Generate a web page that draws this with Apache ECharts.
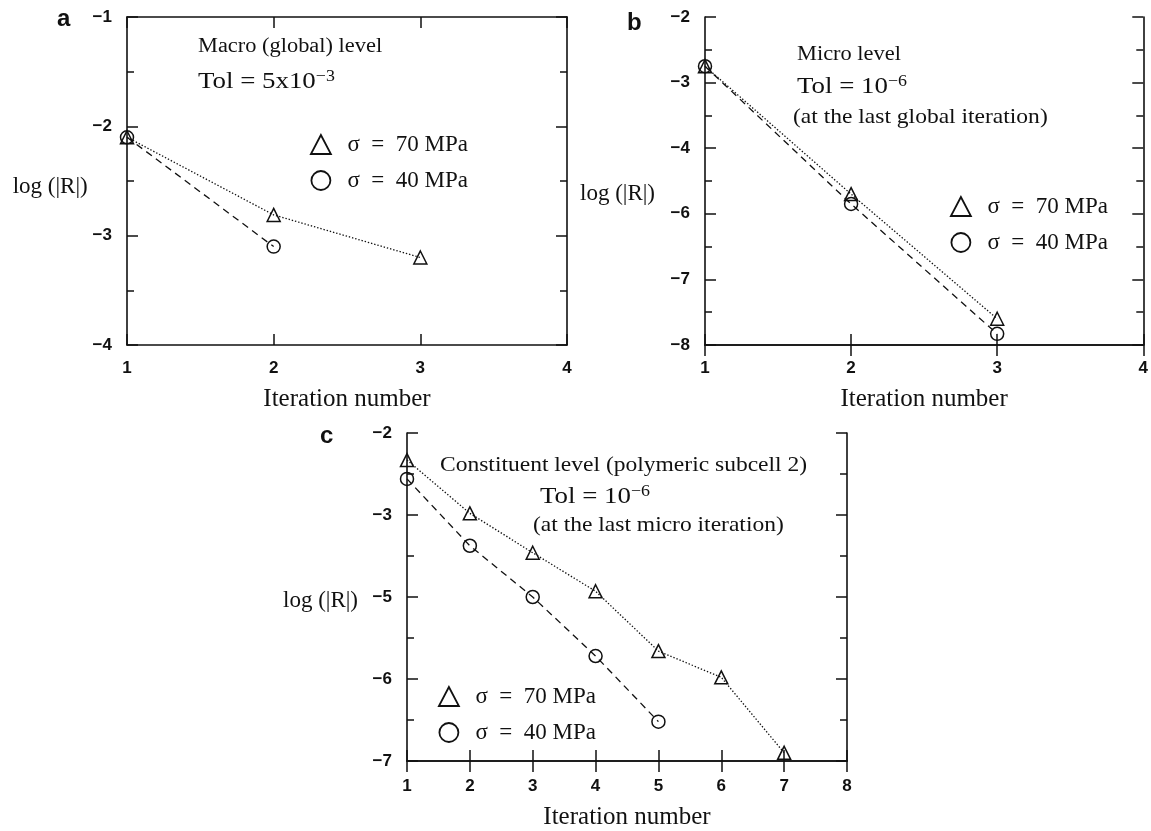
<!DOCTYPE html>
<html><head><meta charset="utf-8">
<script src="https://cdn.jsdelivr.net/npm/echarts@6/dist/echarts.min.js"></script>
<style>html,body{margin:0;padding:0;background:#fff}#c{width:1151px;height:831px}</style>
</head><body><div id="c"></div>
<script>
// ---------- data ----------
const S70 = 'σ = 70 MPa';
const S40 = 'σ = 40 MPa';
// panel a (macro level)
const aIter70 = [1, 2, 3];
const aLog70 = [-2.1, -2.81, -3.2];
const aIter40 = [1, 2];
const aLog40 = [-2.1, -3.1];
// panel b (micro level) - printed tick labels (one label skipped in the original figure)
const bIter70 = [1, 2, 3];
const bLog70 = [-2.75, -5.4, -7.6];
const bIter40 = [1, 2, 3];
const bLog40 = [-2.75, -5.7, -7.83];
const bYTickValues = [-8, -7, -6, -4, -3, -2];
const bYTickLabels = ['−8', '−7', '−6', '−4', '−3', '−2'];
// panel c (constituent level)
const cIter70 = [1, 2, 3, 4, 5, 6, 7];
const cLog70 = [-2.33, -2.98, -3.92, -4.86, -5.66, -5.98, -6.9];
const cIter40 = [1, 2, 3, 4, 5];
const cLog40 = [-2.56, -3.75, -5.0, -5.72, -6.52];
const cYTickValues = [-7, -6, -5, -3, -2];
const cYTickLabels = ['−7', '−6', '−5', '−3', '−2'];

// map a log value onto the printed (evenly spaced) tick positions: tick k sits at 2k
function tickPos(v, vals) {
  for (let i = 0; i < vals.length - 1; i++) {
    if (v >= vals[i] && v <= vals[i + 1]) return 2 * i + 2 * (v - vals[i]) / (vals[i + 1] - vals[i]);
  }
  return v < vals[0] ? 0 : 2 * (vals.length - 1);
}

const INK = '#111';
const SERIF = '"Liberation Serif", "DejaVu Serif", serif';
const SANS = '"Liberation Sans", Arial, sans-serif';

const tickLabel = { fontFamily: SANS, fontWeight: 'bold', fontSize: 17, color: INK };
const axLine = { show: true, lineStyle: { color: INK, width: 1.6 } };
const axTick = { show: true, inside: true, length: 11, lineStyle: { color: INK, width: 1.5 } };

function xAxes(gi, min, max, margin, gap) {
  return [
    { type: 'value', gridIndex: gi, position: 'bottom', min, max, interval: 1,
      axisLine: axLine, axisTick: axTick, splitLine: { show: false },
      axisLabel: Object.assign({ margin }, tickLabel),
      name: 'Iteration number', nameLocation: 'middle', nameGap: gap,
      nameTextStyle: { fontFamily: SERIF, fontSize: 25, color: INK } },
    { type: 'value', gridIndex: gi, position: 'top', min, max, interval: 1,
      axisLine: axLine, axisTick: axTick, splitLine: { show: false }, axisLabel: { show: false } }
  ];
}
function yAxes(gi, min, max, interval, fmt, gap, lh) {
  return [
    { type: 'value', gridIndex: gi, position: 'left', min, max, interval,
      axisLine: axLine, axisTick: axTick, splitLine: { show: false },
      minorTick: { show: true, splitNumber: 2, length: 7, lineStyle: { color: INK, width: 1.5 } },
      minorSplitLine: { show: false },
      axisLabel: Object.assign({ margin: 15, formatter: fmt }, tickLabel),
      name: 'log (|R|)', nameLocation: 'middle', nameRotate: 0, nameGap: gap,
      nameTextStyle: { fontFamily: SERIF, fontSize: 23, color: INK, verticalAlign: 'top', lineHeight: lh } },
    { type: 'value', gridIndex: gi, position: 'right', min, max, interval,
      axisLine: axLine, axisTick: axTick, splitLine: { show: false },
      minorTick: { show: true, splitNumber: 2, length: 7, lineStyle: { color: INK, width: 1.5 } },
      axisLabel: { show: false } }
  ];
}

function mk(name, xs, ys, xi, yi, symbol, dash) {
  return {
    type: 'line', name, xAxisIndex: xi, yAxisIndex: yi,
    data: xs.map((x, i) => [x, ys[i]]),
    symbol, symbolSize: 13, showSymbol: true, clip: false,
    lineStyle: { color: INK, width: 1.3, type: dash },
    itemStyle: { color: 'rgba(0,0,0,0)', borderColor: INK, borderWidth: 1.5 },
    emphasis: { disabled: true }
  };
}
const DOT = [1.4, 1.9];
const DASH = [7, 5];

function legend(left, top, lead) {
  return {
    left, top, orient: 'vertical', itemGap: 13, itemWidth: 20, itemHeight: 19,
    selectedMode: false,
    data: [{ name: S70, icon: 'triangle' }, { name: S40, icon: 'circle' }],
    itemStyle: { color: 'rgba(0,0,0,0)', borderColor: INK, borderWidth: 1.8 },
    formatter: n => lead + n.replace(' = ', '  =  '),
    textStyle: { fontFamily: SERIF, fontSize: 23, color: INK, lineHeight: 21 }
  };
}

function txt(x, y, text, size) {
  return {
    type: 'text', x, y, scaleX: 1.12, silent: true,
    style: { text, fill: INK, font: size + 'px ' + SERIF, fontSize: size, fontFamily: SERIF,
      textAlign: 'left', align: 'left', textVerticalAlign: 'middle', verticalAlign: 'middle',
      rich: { s: { fontSize: Math.round(size * 0.66), fontFamily: SERIF, verticalAlign: 'top', lineHeight: Math.round(size * 1.1) },
              n: { fontSize: size, fontFamily: SERIF, lineHeight: Math.round(size * 1.1) } } }
  };
}
function letter(x, y, t) {
  return { type: 'text', x, y, silent: true,
    style: { text: t, fill: INK, font: 'bold 24px ' + SANS, textAlign: 'left', align: 'left', textVerticalAlign: 'middle', verticalAlign: 'middle' } };
}

const chart = echarts.init(document.getElementById('c'), null, { renderer: 'canvas' });
chart.setOption({
  backgroundColor: '#fff',
  animation: false,
  grid: [
    { left: 127, top: 17, width: 440, height: 328 },
    { left: 705, top: 17, width: 440, height: 328 },
    { left: 407, top: 433, width: 440, height: 330 }
  ],
  xAxis: [].concat(xAxes(0, 1, 4, 15, 42), xAxes(1, 1, 4, 15, 42), xAxes(2, 1, 8, 17, 44)),
  yAxis: [].concat(
    yAxes(0, -4, -1, 1, v => (v < 0 ? '−' : '') + Math.abs(v), 35, 12),
    yAxes(1, 0, 2 * (bYTickValues.length - 1), 2, v => bYTickLabels[Math.round(v / 2)], 50, 26),
    yAxes(2, 0, 2 * (cYTickValues.length - 1), 2, v => cYTickLabels[Math.round(v / 2)], 49, 8)
  ),
  legend: [legend(305, 128, '  '), legend(945, 190, '  '), legend(433, 680, '  ')],
  series: [
    mk(S70, aIter70, aLog70, 0, 0, 'triangle', DOT),
    mk(S40, aIter40, aLog40, 0, 0, 'circle', DASH),
    mk(S70, bIter70, bLog70.map(v => tickPos(v, bYTickValues)), 2, 2, 'triangle', DOT),
    mk(S40, bIter40, bLog40.map(v => tickPos(v, bYTickValues)), 2, 2, 'circle', DASH),
    mk(S70, cIter70, cLog70.map(v => tickPos(v, cYTickValues)), 4, 4, 'triangle', DOT),
    mk(S40, cIter40, cLog40.map(v => tickPos(v, cYTickValues)), 4, 4, 'circle', DASH)
  ],
  graphic: [
    letter(57, 19, 'a'), letter(627, 23, 'b'), letter(320, 436, 'c'),
    txt(198, 47, 'Macro (global) level', 20),
    txt(198, 82, '{n|Tol = 5x10}{s|−3}', 24),
    txt(797, 55, 'Micro level', 20),
    txt(797, 87, '{n|Tol = 10}{s|−6}', 24),
    txt(793, 117, '(at the last global iteration)', 21),
    txt(440, 465, 'Constituent level (polymeric subcell 2)', 21),
    txt(540, 497, '{n|Tol = 10}{s|−6}', 24),
    txt(533, 525, '(at the last micro iteration)', 21)
  ]
});
</script>
</body></html>
